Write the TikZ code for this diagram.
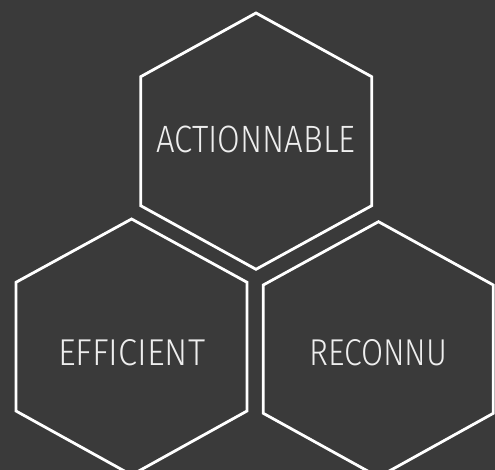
\documentclass[tikz,border=0pt]{standalone}
\usepackage{fontspec}
\setmainfont{Fira Sans}[UprightFont={* Light}]
\usepackage{graphicx}
\definecolor{bgc}{HTML}{3A3A3A}
\definecolor{txc}{HTML}{EEEEEE}
\tikzset{
  hexline/.style={draw=white, line width=2.8pt, line join=miter},
  hexlabel/.style={text=txc, inner sep=0pt, anchor=center}
}
\begin{document}
\begin{tikzpicture}[x=1pt,y=-1pt]
\fill[bgc] (0,0) rectangle (495,470);
\useasboundingbox (0,0) rectangle (495,470);
% top hexagon
\draw[hexline] (256,13) -- (371.7,76.7) -- (371.7,205.7) -- (256,269.3) -- (140.7,205.7) -- (140.7,76.7) -- cycle;
% left hexagon
\draw[hexline] (131.6,219) -- (247,282.3) -- (247,411) -- (131.6,475) -- (16,411) -- (16,282.3) -- cycle;
% right hexagon
\draw[hexline] (378.5,221.7) -- (493.3,285) -- (493.3,413.3) -- (378.5,477) -- (263.3,413.3) -- (263.3,285) -- cycle;
\node[hexlabel] (act) at (256,139.5) {\resizebox{199pt}{26.5pt}{ACTIONNABLE}};
\node[hexlabel] (eff) at (131.7,352.3) {\resizebox{147pt}{26pt}{EFFICIENT}};
\node[hexlabel] (rec) at (378.3,352.3) {\resizebox{138pt}{26pt}{RECONNU}};
\end{tikzpicture}
\end{document}
